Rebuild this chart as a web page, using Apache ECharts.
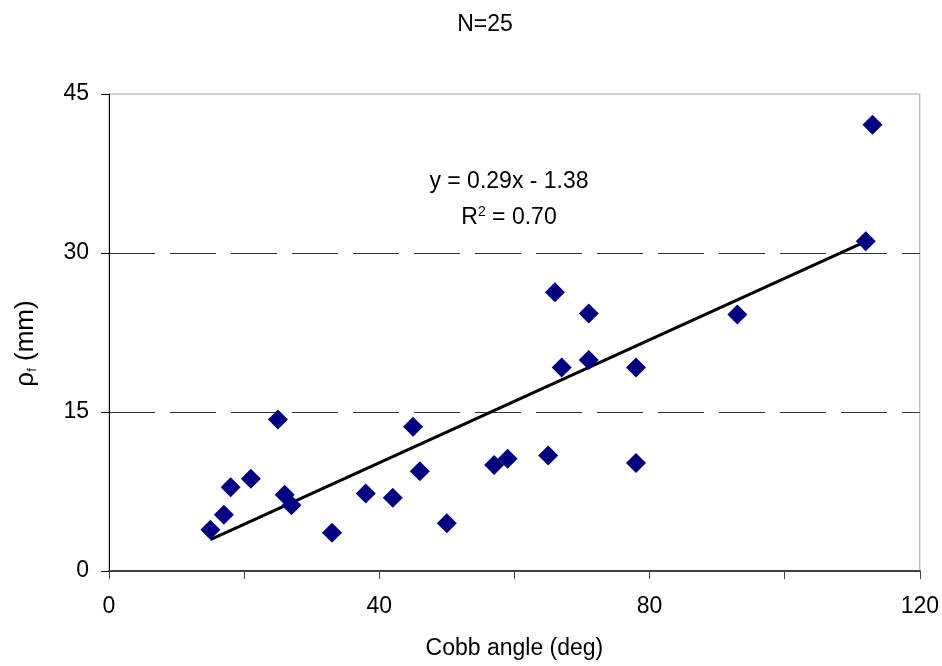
<!DOCTYPE html>
<html><head><meta charset="utf-8">
<script src="https://cdn.jsdelivr.net/npm/echarts@6/dist/echarts.min.js"></script>
<style>html,body{margin:0;padding:0;background:#fff}#c{width:942px;height:666px}</style>
</head><body><div id="c"></div>
<script>
var cobbAngle = [15,17,18,21,25,26,27,33,38,42,45,46,50,57,59,65,66,67,71,71,78,78,93,112,113];
var rhoF      = [3.9,5.3,7.9,8.7,14.3,7.2,6.2,3.6,7.3,6.9,13.6,9.4,4.5,10.0,10.6,10.9,26.3,19.2,24.3,19.9,19.2,10.2,24.2,31.1,42.1];
var xTicks = [0,40,80,120];
var yTicks = [0,15,30,45];
var titleText = 'N=25';
var eqText = 'y = 0.29x - 1.38';
var r2Text = '0.70';
var slope = 0.29, intercept = -1.38;

var pts = cobbAngle.map(function(x,i){return [x, rhoF[i]];});
var xmin = Math.min.apply(null,cobbAngle), xmax = Math.max.apply(null,cobbAngle);
var trend = [[xmin, slope*xmin+intercept],[xmax, slope*xmax+intercept]];

var FONT = '"Liberation Sans", Arial, sans-serif';
var FS = 23;
var chart = echarts.init(document.getElementById('c'));
chart.setOption({
  backgroundColor:'#fff',
  animation:false,
  title:{text:titleText,left:480,top:8,textAlign:'center',textStyle:{fontFamily:FONT,fontSize:FS,fontWeight:'normal',color:'#000'}},
  grid:{left:109,right:22,top:94,bottom:95,show:true,borderColor:'#a0a0a0',borderWidth:1},
  xAxis:{type:'value',min:0,max:120,interval:20,
    name:'Cobb angle (deg)',nameLocation:'middle',nameGap:66,
    nameTextStyle:{fontFamily:FONT,fontSize:FS,color:'#000'},
    axisLine:{lineStyle:{color:'#404040',width:2}},
    axisTick:{inside:false,length:8,lineStyle:{color:'#404040',width:1}},
    axisLabel:{margin:24,fontFamily:FONT,fontSize:FS,color:'#000',
      formatter:function(v){return xTicks.indexOf(v)>=0?String(v):'';}},
    splitLine:{show:false}},
  yAxis:{type:'value',min:0,max:45,interval:15,
    name:'{a|ρ}{s|f}{a| (mm)}',nameLocation:'middle',nameGap:70,nameRotate:90,
    nameTextStyle:{padding:[0,22,0,0],rich:{a:{fontFamily:FONT,fontSize:26,color:'#000'},s:{fontFamily:FONT,fontSize:13,color:'#000',padding:[14,0,0,0]}}},
    axisLine:{lineStyle:{color:'#000',width:1}},
    axisTick:{inside:false,length:8,lineStyle:{color:'#000',width:1}},
    axisLabel:{margin:20,fontFamily:FONT,fontSize:FS,color:'#000',
      formatter:function(v){return yTicks.indexOf(v)>=0?String(v):'';}},
    splitLine:{show:true,showMinLine:false,showMaxLine:false,lineStyle:{color:'#333',width:1,type:[46,15]}}},
  graphic:[
    {type:'text',x:509,y:182,z:10,style:{text:eqText,fontFamily:FONT,fontSize:FS,fill:'#000',align:'center',verticalAlign:'middle'}},
    {type:'text',x:509,y:218,z:10,style:{text:'R{sup|2} = '+r2Text,fontFamily:FONT,fontSize:FS,fill:'#000',align:'center',verticalAlign:'middle',
      rich:{sup:{fontSize:14,padding:[0,0,12,0],fontFamily:FONT}}}}
  ],
  series:[
    {type:'line',data:trend,symbol:'none',lineStyle:{color:'#000',width:3},z:3,silent:true},
    {type:'scatter',data:pts,symbol:'diamond',symbolSize:[20,20],itemStyle:{color:'#000080',opacity:1},z:4}
  ]
});
</script></body></html>
